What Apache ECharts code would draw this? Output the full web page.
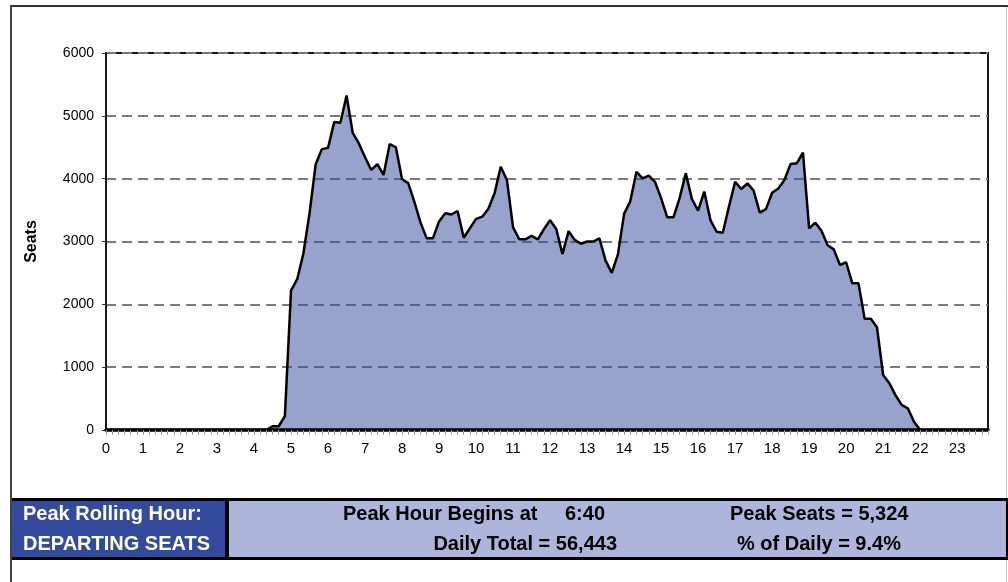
<!DOCTYPE html>
<html>
<head>
<meta charset="utf-8">
<script src="https://cdn.jsdelivr.net/npm/echarts@6/dist/echarts.min.js"></script>
<style>
  html, body { margin: 0; padding: 0; background: #fff; }
  #chart01 { width: 1008px; height: 582px; }
</style>
</head>
<body>
<div id="chart01"></div>
<script>
// departing seats, rolling hour, one value per 10 minutes (0:00 .. 23:50)
var hourLabels = ['0','1','2','3','4','5','6','7','8','9','10','11',
                  '12','13','14','15','16','17','18','19','20','21','22','23'];

var seats = [
    0, 0, 0, 0, 0, 0,                      // 0
    0, 0, 0, 0, 0, 0,                      // 1
    0, 0, 0, 0, 0, 0,                      // 2
    0, 0, 0, 0, 0, 0,                      // 3
    0, 0, 0, 60, 60, 220,                  // 4
    2220, 2400, 2810, 3450, 4230, 4470,    // 5
    4490, 4900, 4890, 5324, 4730, 4560,    // 6
    4340, 4140, 4230, 4060, 4550, 4500,    // 7
    3990, 3930, 3630, 3300, 3050, 3050,    // 8
    3320, 3450, 3430, 3485, 3060, 3210,    // 9
    3360, 3395, 3520, 3770, 4190, 3980,    // 10
    3225, 3035, 3035, 3090, 3035, 3195,    // 11
    3340, 3200, 2800, 3165, 3025, 2965,    // 12
    3000, 3000, 3050, 2695, 2500, 2795,    // 13
    3440, 3640, 4110, 4005, 4050, 3950,    // 14
    3690, 3385, 3385, 3690, 4085, 3675,    // 15
    3490, 3795, 3340, 3155, 3140, 3555,    // 16
    3950, 3835, 3925, 3810, 3460, 3515,    // 17
    3775, 3845, 3980, 4235, 4245, 4415,    // 18
    3210, 3300, 3170, 2940, 2875, 2625,    // 19
    2670, 2335, 2335, 1770, 1770, 1635,    // 20
    875, 745, 555, 400, 345, 130,          // 21
    0, 0, 0, 0, 0, 0,                      // 22
    0, 0, 0, 0, 0, 0                       // 23
];

var summary = {
    peakBegins: '6:40',
    peakSeats: '5,324',
    dailyTotal: '56,443',
    pctDaily: '9.4%'
};

var slots = [];
for (var h = 0; h < 24; h++) {
    for (var m = 0; m < 60; m += 10) {
        slots.push(h + ':' + (m < 10 ? '0' + m : m));
    }
}

var FONT = "'Liberation Sans', Arial, Helvetica, sans-serif";

var myChart = echarts.init(document.getElementById('chart01'));

var option = {
    animation: false,
    backgroundColor: '#fff',
    textStyle: { fontFamily: FONT },
    grid: {
        left: 106, right: 20, top: 53, bottom: 152,
        show: true,
        borderColor: '#1a1a1a',
        borderWidth: 2
    },
    xAxis: {
        type: 'category',
        data: slots,
        boundaryGap: false,
        z: 10,
        axisLine: { lineStyle: { color: '#000', width: 3.5 } },
        axisTick: {
            interval: 0,
            length: 5,
            lineStyle: { color: '#9a9a9a', width: 1 }
        },
        axisLabel: {
            interval: function (i) { return i % 6 === 0; },
            formatter: function (v, i) { return hourLabels[Math.floor(i / 6)]; },
            fontSize: 15,
            color: '#000',
            margin: 11
        },
        splitLine: { show: false }
    },
    yAxis: {
        type: 'value',
        min: 0,
        max: 6000,
        interval: 1000,
        name: 'Seats',
        nameLocation: 'middle',
        nameGap: 66,
        nameTextStyle: { fontSize: 16, fontWeight: 'bold', color: '#000' },
        axisLine: { show: true, lineStyle: { color: '#1a1a1a', width: 2 } },
        axisTick: { show: true, length: 4, lineStyle: { color: '#333' } },
        axisLabel: {
            fontSize: 14, color: '#000', margin: 12,
            formatter: function (v) { return String(v); }
        },
        splitLine: {
            show: true,
            lineStyle: { color: '#7a7a7a', width: 2, type: [10, 6] }
        }
    },
    series: [
        {
            name: 'Seats',
            type: 'line',
            data: seats,
            symbol: 'none',
            lineStyle: { color: '#000', width: 2.5 },
            areaStyle: { color: '#344a9c', opacity: 0.51 },
            z: 3
        }
    ],
    graphic: [
        // outer frame
        { type: 'line', shape: { x1: 11, y1: 6, x2: 1008, y2: 6 }, style: { stroke: '#333', lineWidth: 2 } },
        { type: 'line', shape: { x1: 11, y1: 5, x2: 11, y2: 582 }, style: { stroke: '#444', lineWidth: 2 } },
        { type: 'line', shape: { x1: 1006.5, y1: 7, x2: 1006.5, y2: 582 }, style: { stroke: '#c8c8c8', lineWidth: 1 } },
        // bottom panel
        { type: 'rect', shape: { x: 12, y: 498, width: 996, height: 62 }, style: { fill: '#000' } },
        { type: 'rect', shape: { x: 12, y: 501, width: 213, height: 56 }, style: { fill: '#344a9c' } },
        { type: 'rect', shape: { x: 229, y: 501, width: 777, height: 56 }, style: { fill: '#adb6da' } },
        { type: 'text', style: { text: 'Peak Rolling Hour:', x: 23, y: 514, fill: '#fff',
            font: 'bold 20px ' + FONT, textAlign: 'left', textVerticalAlign: 'middle' } },
        { type: 'text', style: { text: 'DEPARTING SEATS', x: 23, y: 544, fill: '#fff',
            font: 'bold 20px ' + FONT, textAlign: 'left', textVerticalAlign: 'middle' } },
        { type: 'text', style: { text: 'Peak Hour Begins at', x: 343, y: 514, fill: '#000',
            font: 'bold 20px ' + FONT, textAlign: 'left', textVerticalAlign: 'middle' } },
        { type: 'text', style: { text: summary.peakBegins, x: 565, y: 514, fill: '#000',
            font: 'bold 20px ' + FONT, textAlign: 'left', textVerticalAlign: 'middle' } },
        { type: 'text', style: { text: 'Daily Total = ' + summary.dailyTotal, x: 617, y: 544, fill: '#000',
            font: 'bold 20px ' + FONT, textAlign: 'right', textVerticalAlign: 'middle' } },
        { type: 'text', style: { text: 'Peak Seats = ' + summary.peakSeats, x: 730, y: 514, fill: '#000',
            font: 'bold 20px ' + FONT, textAlign: 'left', textVerticalAlign: 'middle' } },
        { type: 'text', style: { text: '% of Daily = ' + summary.pctDaily, x: 737, y: 544, fill: '#000',
            font: 'bold 20px ' + FONT, textAlign: 'left', textVerticalAlign: 'middle' } }
    ]
};
myChart.setOption(option);
</script>
</body>
</html>
